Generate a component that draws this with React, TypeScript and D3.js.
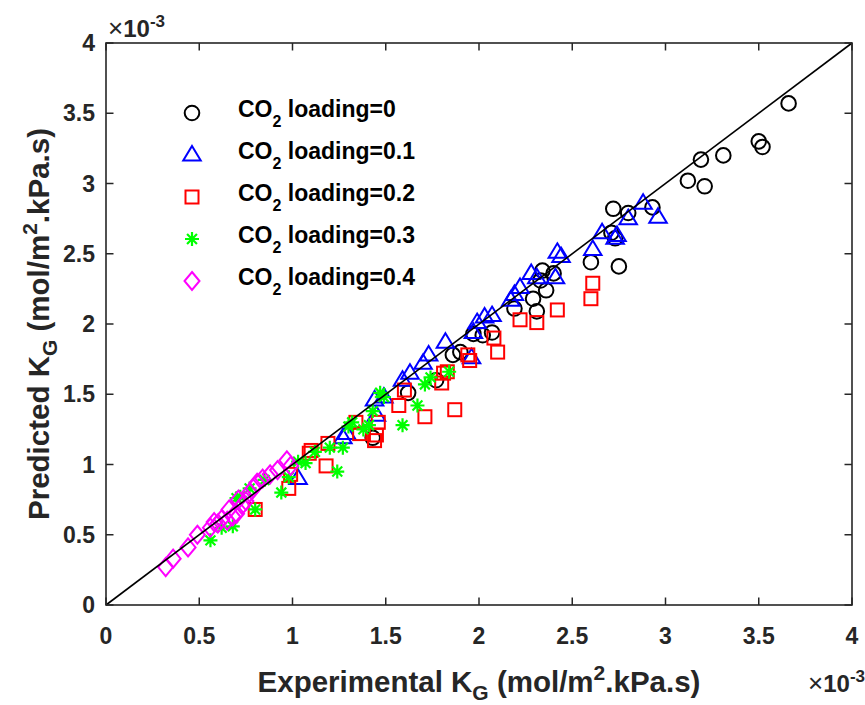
import React from 'react';
import * as d3 from 'd3';

// values in units of 1e-3 mol/m2.kPa.s
const loading0: [number, number][] = [
  [1.43, 1.19], [1.62, 1.51], [1.77, 1.6], [1.86, 1.78], [1.9, 1.8], [1.97, 1.93], [2.02, 1.92],
  [2.07, 1.94], [2.19, 2.11], [2.29, 2.18], [2.31, 2.09], [2.34, 2.38], [2.36, 2.24], [2.4, 2.36],
  [2.33, 2.31], [2.6, 2.44], [2.75, 2.41], [2.73, 2.61], [2.72, 2.82], [2.8, 2.79], [2.93, 2.83],
  [2.71, 2.65], [3.12, 3.02], [3.21, 2.98], [3.19, 3.17], [3.31, 3.2], [3.5, 3.3], [3.52, 3.26],
  [3.66, 3.57],
];
const loading1: [number, number][] = [
  [1.03, 0.9], [1.27, 1.19], [1.29, 1.22], [1.44, 1.46], [1.45, 1.35], [1.49, 1.48], [1.59, 1.6],
  [1.63, 1.65], [1.7, 1.72], [1.73, 1.78], [1.82, 1.87], [1.96, 1.76], [1.97, 1.94], [1.99, 2.01],
  [2.03, 2.05], [2.07, 2.06], [2.17, 2.17], [2.19, 2.21], [2.22, 2.26], [2.28, 2.36], [2.31, 2.33],
  [2.41, 2.33], [2.42, 2.51], [2.44, 2.48], [2.61, 2.53], [2.66, 2.65], [2.73, 2.61], [2.74, 2.63],
  [2.8, 2.75], [2.88, 2.86], [2.96, 2.76],
];
const loading2: [number, number][] = [
  [0.8, 0.68], [0.98, 0.83], [0.99, 0.93], [1.09, 1.08], [1.1, 1.1], [1.18, 0.99], [1.19, 1.15],
  [1.34, 1.3], [1.36, 1.22], [1.45, 1.21], [1.44, 1.17], [1.46, 1.3], [1.57, 1.42], [1.6, 1.53],
  [1.71, 1.34], [1.8, 1.58], [1.81, 1.65], [1.83, 1.66], [1.87, 1.39], [1.94, 1.78], [1.95, 1.74],
  [2.08, 1.9], [2.1, 1.8], [2.22, 2.03], [2.31, 2.01], [2.42, 2.1], [2.6, 2.18], [2.61, 2.29],
];
const loading3: [number, number][] = [
  [0.56, 0.46], [0.62, 0.55], [0.68, 0.56], [0.7, 0.76], [0.72, 0.77], [0.77, 0.83], [0.8, 0.68],
  [0.85, 0.89], [0.94, 0.8], [0.98, 0.91], [1.03, 1.02], [1.07, 1.01], [1.12, 1.09], [1.2, 1.12],
  [1.24, 0.95], [1.27, 1.12], [1.3, 1.27], [1.32, 1.3], [1.38, 1.25], [1.41, 1.28], [1.43, 1.38],
  [1.47, 1.51], [1.49, 1.48], [1.59, 1.28], [1.67, 1.42], [1.71, 1.57], [1.74, 1.62], [1.84, 1.66],
];
const loading4: [number, number][] = [
  [0.32, 0.27], [0.36, 0.33], [0.44, 0.41], [0.49, 0.5], [0.56, 0.55], [0.58, 0.59], [0.6, 0.58],
  [0.62, 0.61], [0.65, 0.6], [0.68, 0.63], [0.7, 0.65], [0.73, 0.71], [0.75, 0.74], [0.77, 0.8],
  [0.79, 0.83], [0.81, 0.87], [0.84, 0.9], [0.88, 0.93], [0.92, 0.96], [0.97, 1.03], [0.99, 0.99],
  [0.66, 0.68], [0.71, 0.75],
];
const seriesLabels = ['0', '0.1', '0.2', '0.3', '0.4'];
const seriesColors = ['#000000', '#0000ff', '#ff0000', '#00ff00', '#ff00ff'];
const seriesMarkers = ['circle', 'triangle', 'square', 'asterisk', 'diamond'];
const xTicks = [0, 0.5, 1, 1.5, 2, 2.5, 3, 3.5, 4];
const yTicks = [0, 0.5, 1, 1.5, 2, 2.5, 3, 3.5, 4];
const xTickLabels = ['0', '0.5', '1', '1.5', '2', '2.5', '3', '3.5', '4'];
const yTickLabels = ['0', '0.5', '1', '1.5', '2', '2.5', '3', '3.5', '4'];

const W = 865, H = 705;
const L = 106, R = 852, T = 43, B = 605;
const FONT = "'Liberation Sans', Arial, Helvetica, sans-serif";
const AX = '#262626';

function Marker({ type, x, y, color }: { type: string; x: number; y: number; color: string }) {
  const sw = 2;
  if (type === 'circle') return <circle cx={x} cy={y} r={7.3} fill="none" stroke={color} strokeWidth={sw} />;
  if (type === 'triangle') {
    const h = 14.5, w = 17.5;
    return <path d={`M${x},${y - h * 0.62} L${x + w / 2},${y + h * 0.38} L${x - w / 2},${y + h * 0.38} Z`} fill="none" stroke={color} strokeWidth={sw} />;
  }
  if (type === 'square') return <rect x={x - 6.5} y={y - 6.5} width={13} height={13} fill="none" stroke={color} strokeWidth={sw} />;
  if (type === 'diamond') {
    const w = 7.5, h = 9;
    return <path d={`M${x},${y - h} L${x + w},${y} L${x},${y + h} L${x - w},${y} Z`} fill="none" stroke={color} strokeWidth={sw} />;
  }
  // asterisk
  const r = 7, d = r * 0.707;
  return (
    <path d={`M${x - r},${y} L${x + r},${y} M${x},${y - r} L${x},${y + r} M${x - d},${y - d} L${x + d},${y + d} M${x - d},${y + d} L${x + d},${y - d}`}
      stroke={color} strokeWidth={2.2} fill="none" />
  );
}

export default function App() {
  const x = d3.scaleLinear().domain([0, 4]).range([L, R]);
  const y = d3.scaleLinear().domain([0, 4]).range([B, T]);
  const allSeries = [loading0, loading1, loading2, loading3, loading4];
  const line = d3.line<[number, number]>().x((d) => x(d[0])).y((d) => y(d[1]));
  const tl = 7.5;
  return (
    <svg width={W} height={H} style={{ position: 'absolute', left: 0, top: 0, background: '#fff' }} fontFamily={FONT}>
      <rect x={0} y={0} width={W} height={H} fill="#fff" />
      {allSeries.map((s, i) => (
        <g key={i}>
          {s.map((p, j) => (
            <Marker key={j} type={seriesMarkers[i]} x={x(p[0])} y={y(p[1])} color={seriesColors[i]} />
          ))}
        </g>
      ))}
      <path d={line([[0, 0], [4, 4]]) || ''} stroke="#000" strokeWidth={1.6} fill="none" />
      {/* box */}
      <rect x={L} y={T} width={R - L} height={B - T} fill="none" stroke={AX} strokeWidth={1.6} />
      {xTicks.map((t, i) => (
        <g key={'xt' + i}>
          <line x1={x(t)} x2={x(t)} y1={B} y2={B - tl} stroke={AX} strokeWidth={1.5} />
          <line x1={x(t)} x2={x(t)} y1={T} y2={T + tl} stroke={AX} strokeWidth={1.5} />
          <text x={x(t)} y={644} textAnchor="middle" fontSize={23} fontWeight="bold" fill={AX}>{xTickLabels[i]}</text>
        </g>
      ))}
      {yTicks.map((t, i) => (
        <g key={'yt' + i}>
          <line x1={L} x2={L + tl} y1={y(t)} y2={y(t)} stroke={AX} strokeWidth={1.5} />
          <line x1={R} x2={R - tl} y1={y(t)} y2={y(t)} stroke={AX} strokeWidth={1.5} />
          <text x={95} y={y(t) + 8} textAnchor="end" fontSize={23} fontWeight="bold" fill={AX}>{yTickLabels[i]}</text>
        </g>
      ))}
      {/* exponent labels */}
      <text x={108} y={37} fontSize={24} fill={AX} fontWeight="bold">
        <tspan fontWeight="normal" fontSize={26}>×</tspan>10<tspan fontSize={17} dy={-10}>-3</tspan>
      </text>
      <text x={808} y={692} fontSize={24} fill={AX} fontWeight="bold">
        <tspan fontWeight="normal" fontSize={26}>×</tspan>10<tspan fontSize={17} dy={-10}>-3</tspan>
      </text>
      {/* axis labels */}
      <text x={(L + R) / 2} y={692} textAnchor="middle" fontSize={29.5} fontWeight="bold" fill={AX}>
        Experimental K<tspan fontSize={21} dy={8}>G</tspan><tspan dy={-8}> (mol/m</tspan><tspan fontSize={21} dy={-12}>2</tspan><tspan dy={12}>.kPa.s)</tspan>
      </text>
      <text transform={`translate(49,${(T + B) / 2}) rotate(-90)`} textAnchor="middle" fontSize={29.5} fontWeight="bold" fill={AX}>
        Predicted K<tspan fontSize={21} dy={8}>G</tspan><tspan dy={-8}> (mol/m</tspan><tspan fontSize={21} dy={-12}>2</tspan><tspan dy={12}>.kPa.s)</tspan>
      </text>
      {/* legend */}
      {seriesLabels.map((lab, i) => {
        const ly = 113 + i * 42;
        return (
          <g key={'lg' + i}>
            <Marker type={seriesMarkers[i]} x={192} y={ly} color={seriesColors[i]} />
            <text x={238} y={ly + 4} fontSize={23} fontWeight="bold" fill="#000">
              CO<tspan fontSize={16} dy={10}>2</tspan><tspan dy={-10}> loading={lab}</tspan>
            </text>
          </g>
        );
      })}
    </svg>
  );
}
